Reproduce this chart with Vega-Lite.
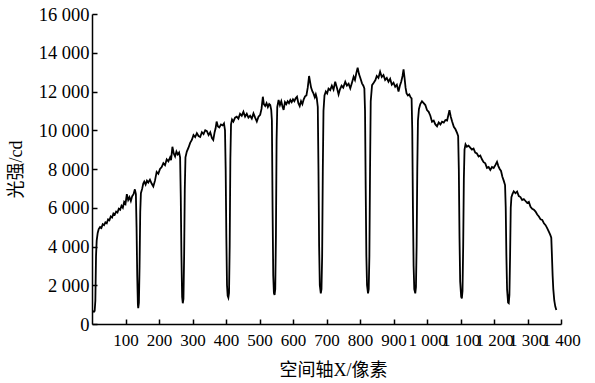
{
 "$schema": "https://vega.github.io/schema/vega-lite/v6.json",
 "width": 469, "height": 310,
 "autosize": "none",
 "padding": {"left": 92, "top": 14, "right": 34, "bottom": 59},
 "background": "white",
 "config": {"view": {"stroke": null}},
 "data": {"values": [
{"x":4,"y":700},{"x":6,"y":640},{"x":8,"y":680},{"x":10,"y":1200},{"x":12,"y":3500},{"x":14,"y":4300},{"x":17,"y":4700},{"x":20,"y":4900},{"x":24,"y":5000},{"x":28,"y":4950},{"x":32,"y":5150},{"x":36,"y":5100},{"x":40,"y":5250},{"x":44,"y":5200},{"x":48,"y":5400},{"x":52,"y":5350},{"x":56,"y":5550},{"x":60,"y":5500},{"x":64,"y":5700},{"x":68,"y":5650},{"x":72,"y":5800},{"x":76,"y":5750},{"x":80,"y":5950},{"x":84,"y":5900},{"x":88,"y":6100},{"x":92,"y":6000},{"x":96,"y":6300},{"x":100,"y":6200},{"x":104,"y":6700},{"x":108,"y":6400},{"x":112,"y":6550},{"x":116,"y":6350},{"x":120,"y":6600},{"x":124,"y":6700},{"x":128,"y":6950},{"x":131,"y":6700},{"x":133,"y":5000},{"x":135,"y":2500},{"x":137,"y":1000},{"x":138,"y":820},{"x":140,"y":1100},{"x":142,"y":3000},{"x":144,"y":5800},{"x":146,"y":6750},{"x":150,"y":7000},{"x":153,"y":7250},
{"x":156,"y":7350},{"x":160,"y":7200},{"x":164,"y":7400},{"x":168,"y":7300},{"x":173,"y":7450},{"x":178,"y":7250},{"x":183,"y":7100},{"x":188,"y":7400},{"x":193,"y":7850},{"x":198,"y":7750},{"x":203,"y":8000},{"x":208,"y":8100},{"x":213,"y":8300},{"x":218,"y":8200},{"x":223,"y":8500},{"x":228,"y":8400},{"x":233,"y":8600},{"x":236,"y":8450},{"x":240,"y":9150},{"x":244,"y":8800},{"x":248,"y":8650},{"x":252,"y":8900},{"x":256,"y":8750},{"x":260,"y":8850},{"x":263,"y":8600},{"x":265,"y":6500},{"x":267,"y":3500},{"x":269,"y":1400},{"x":271,"y":1070},{"x":273,"y":1300},{"x":275,"y":3500},{"x":277,"y":7000},{"x":279,"y":8600},{"x":283,"y":8900},{"x":288,"y":9100},{"x":293,"y":9350},
{"x":298,"y":9500},{"x":303,"y":9750},{"x":308,"y":9650},{"x":313,"y":9850},{"x":318,"y":9700},{"x":323,"y":9650},{"x":328,"y":9900},{"x":333,"y":9800},{"x":338,"y":10000},{"x":343,"y":9950},{"x":348,"y":9750},{"x":353,"y":9900},{"x":358,"y":9600},{"x":362,"y":9500},{"x":366,"y":9900},{"x":369,"y":10100},{"x":372,"y":10450},{"x":376,"y":10200},{"x":380,"y":10150},{"x":385,"y":10300},{"x":390,"y":10250},{"x":394,"y":10350},{"x":397,"y":10000},{"x":399,"y":8000},{"x":401,"y":4500},{"x":403,"y":2000},{"x":405,"y":1450},{"x":407,"y":1360},{"x":409,"y":1600},{"x":411,"y":4000},{"x":413,"y":8500},{"x":415,"y":10300},{"x":418,"y":10550},
{"x":422,"y":10450},{"x":427,"y":10650},{"x":432,"y":10700},{"x":437,"y":10600},{"x":442,"y":10850},{"x":447,"y":10750},{"x":452,"y":10950},{"x":457,"y":10700},{"x":462,"y":10850},{"x":467,"y":10650},{"x":472,"y":10750},{"x":477,"y":10600},{"x":482,"y":10870},{"x":487,"y":10650},{"x":492,"y":10450},{"x":497,"y":10700},{"x":502,"y":10800},{"x":506,"y":11100},{"x":510,"y":11730},{"x":513,"y":11350},{"x":517,"y":11250},{"x":521,"y":11400},{"x":525,"y":11200},{"x":529,"y":11350},{"x":532,"y":11300},{"x":535,"y":11050},{"x":537,"y":10500},{"x":539,"y":6000},{"x":541,"y":2500},{"x":543,"y":1600},{"x":545,"y":1500},{"x":547,"y":1800},{"x":549,"y":4500},{"x":551,"y":9500},{"x":553,"y":11200},{"x":557,"y":11560},
{"x":561,"y":11300},{"x":565,"y":11500},{"x":569,"y":11200},{"x":572,"y":11050},{"x":576,"y":11450},{"x":580,"y":11350},{"x":584,"y":11500},{"x":588,"y":11400},{"x":592,"y":11560},{"x":596,"y":11450},{"x":600,"y":11600},{"x":604,"y":11500},{"x":608,"y":11650},{"x":612,"y":11730},{"x":616,"y":11400},{"x":620,"y":11250},{"x":624,"y":11500},{"x":628,"y":11350},{"x":632,"y":11600},{"x":636,"y":11750},{"x":640,"y":11800},{"x":644,"y":12200},{"x":648,"y":12800},{"x":651,"y":12500},{"x":654,"y":12200},{"x":658,"y":12000},{"x":661,"y":11900},{"x":665,"y":11700},{"x":668,"y":11850},{"x":671,"y":11650},{"x":674,"y":11200},{"x":676,"y":8000},{"x":678,"y":4000},{"x":680,"y":2000},{"x":683,"y":1580},{"x":685,"y":1800},{"x":687,"y":3500},{"x":689,"y":8000},{"x":691,"y":11000},{"x":694,"y":11800},{"x":698,"y":12000},
{"x":702,"y":11900},{"x":706,"y":12150},{"x":711,"y":12070},{"x":716,"y":12300},{"x":721,"y":12100},{"x":726,"y":12500},{"x":731,"y":12200},{"x":736,"y":11850},{"x":740,"y":12100},{"x":745,"y":12300},{"x":750,"y":12200},{"x":756,"y":12500},{"x":761,"y":12300},{"x":766,"y":12400},{"x":771,"y":12160},{"x":776,"y":12450},{"x":781,"y":12760},{"x":785,"y":12600},{"x":789,"y":12950},{"x":793,"y":13230},{"x":797,"y":12900},{"x":801,"y":12700},{"x":806,"y":12420},{"x":810,"y":12300},{"x":813,"y":12160},{"x":815,"y":11000},{"x":817,"y":7000},{"x":819,"y":3500},{"x":821,"y":2000},{"x":824,"y":1580},{"x":826,"y":1800},{"x":828,"y":3500},{"x":830,"y":8000},{"x":832,"y":11500},{"x":836,"y":12330},
{"x":841,"y":12450},{"x":846,"y":12590},{"x":850,"y":12800},{"x":855,"y":12700},{"x":860,"y":13020},{"x":865,"y":12750},{"x":870,"y":12850},{"x":875,"y":12600},{"x":880,"y":12700},{"x":885,"y":12500},{"x":890,"y":12650},{"x":895,"y":12350},{"x":900,"y":12450},{"x":905,"y":12240},{"x":910,"y":12350},{"x":915,"y":12000},{"x":919,"y":12300},{"x":923,"y":12500},{"x":927,"y":12800},{"x":930,"y":13140},{"x":933,"y":12700},{"x":936,"y":12200},{"x":939,"y":11900},{"x":943,"y":11800},{"x":947,"y":11850},{"x":951,"y":11700},{"x":954,"y":11650},{"x":956,"y":10000},{"x":958,"y":6000},{"x":960,"y":3000},{"x":962,"y":1800},{"x":965,"y":1580},{"x":967,"y":1900},{"x":969,"y":4000},{"x":971,"y":8000},{"x":973,"y":10500},{"x":976,"y":11100},
{"x":980,"y":11350},{"x":985,"y":11500},{"x":990,"y":11400},{"x":995,"y":11300},{"x":1000,"y":11040},{"x":1005,"y":10950},{"x":1010,"y":10750},{"x":1015,"y":10440},{"x":1020,"y":10500},{"x":1025,"y":10300},{"x":1030,"y":10200},{"x":1035,"y":10400},{"x":1040,"y":10300},{"x":1045,"y":10440},{"x":1050,"y":10400},{"x":1055,"y":10530},{"x":1060,"y":10500},{"x":1064,"y":10800},{"x":1067,"y":11040},{"x":1071,"y":10700},{"x":1075,"y":10450},{"x":1080,"y":10180},{"x":1085,"y":10050},{"x":1090,"y":9850},{"x":1093,"y":9700},{"x":1095,"y":8000},{"x":1097,"y":4500},{"x":1099,"y":2200},{"x":1102,"y":1400},{"x":1104,"y":1320},{"x":1106,"y":1700},{"x":1108,"y":4000},{"x":1110,"y":7500},{"x":1112,"y":9000},{"x":1115,"y":9270},
{"x":1119,"y":9150},{"x":1124,"y":9200},{"x":1129,"y":9100},{"x":1134,"y":9000},{"x":1139,"y":9050},{"x":1144,"y":8850},{"x":1149,"y":8800},{"x":1154,"y":8650},{"x":1159,"y":8700},{"x":1164,"y":8500},{"x":1169,"y":8350},{"x":1174,"y":8290},{"x":1179,"y":8050},{"x":1184,"y":8100},{"x":1189,"y":7950},{"x":1194,"y":8100},{"x":1199,"y":8050},{"x":1204,"y":8200},{"x":1209,"y":8370},{"x":1213,"y":8150},{"x":1217,"y":8000},{"x":1221,"y":7900},{"x":1225,"y":7600},{"x":1229,"y":7400},{"x":1233,"y":7170},{"x":1235,"y":6000},{"x":1237,"y":3500},{"x":1239,"y":1800},{"x":1242,"y":1100},{"x":1244,"y":1070},{"x":1246,"y":1500},{"x":1248,"y":3500},{"x":1250,"y":6000},{"x":1252,"y":6550},{"x":1255,"y":6700},
{"x":1259,"y":6850},{"x":1264,"y":6750},{"x":1269,"y":6830},{"x":1274,"y":6600},{"x":1279,"y":6550},{"x":1284,"y":6400},{"x":1289,"y":6450},{"x":1294,"y":6350},{"x":1299,"y":6250},{"x":1304,"y":6300},{"x":1309,"y":6050},{"x":1314,"y":5950},{"x":1319,"y":5900},{"x":1324,"y":5800},{"x":1329,"y":5650},{"x":1334,"y":5550},{"x":1339,"y":5400},{"x":1344,"y":5370},{"x":1349,"y":5200},{"x":1354,"y":5100},{"x":1359,"y":4940},{"x":1364,"y":4750},{"x":1368,"y":4600},{"x":1371,"y":4450},{"x":1373,"y":3500},{"x":1375,"y":2500},{"x":1377,"y":1800},{"x":1380,"y":1200},{"x":1383,"y":900},{"x":1386,"y":720}
 ]},
 "mark": {"type": "line", "color": "black", "strokeWidth": 1.8},
 "encoding": {
  "x": {"field": "x", "type": "quantitative",
   "scale": {"domain": [0, 1400], "nice": false, "zero": false},
   "axis": {"values": [100,200,300,400,500,600,700,800,900,1000,1100,1200,1300,1400],
    "labelExpr": "replace(format(datum.value, ','), ',', ' ')",
    "title": "空间轴X/像素", "grid": false, "domainColor": "black", "domainWidth": 1.5,
    "tickColor": "black", "tickWidth": 1.5, "tickSize": -5, "labelPadding": 13,
    "labelFont": "Liberation Serif", "labelFontSize": 17, "labelColor": "black",
    "labelOverlap": false, "labelFlush": false,
    "titleFont": "Liberation Serif, Noto Sans CJK SC", "titleFontSize": 18, "titleFontWeight": "normal", "titleColor": "black",
    "titleX": 241, "titleY": 46, "titleBaseline": "middle", "titleAlign": "center"}},
  "y": {"field": "y", "type": "quantitative",
   "scale": {"domain": [0, 16000], "nice": false},
   "axis": {"values": [0,2000,4000,6000,8000,10000,12000,14000,16000],
    "labelExpr": "replace(format(datum.value, ','), ',', ' ')",
    "title": "光强/cd", "grid": false, "domainColor": "black", "domainWidth": 1.5,
    "tickColor": "black", "tickWidth": 1.5, "tickSize": -5, "labelPadding": 8,
    "labelFont": "Liberation Serif", "labelFontSize": 18.5, "labelColor": "black",
    "labelOverlap": false, "labelFlush": false,
    "titleFont": "Liberation Serif, Noto Sans CJK SC", "titleFontSize": 18, "titleFontWeight": "normal", "titleColor": "black",
    "titleX": -76, "titleY": 155, "titleBaseline": "middle", "titleAlign": "center", "titleAngle": 270}}
 }
}
